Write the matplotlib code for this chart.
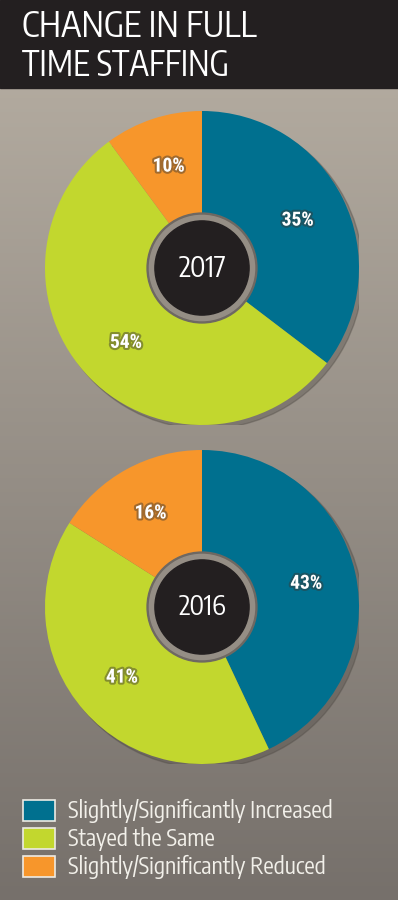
import numpy as np
import matplotlib
matplotlib.use("Agg")
import matplotlib.pyplot as plt
import matplotlib.patheffects as pe
from matplotlib.patches import Circle, Rectangle

# data
years = ["2017", "2016"]
categories = ["Slightly/Significantly Increased", "Stayed the Same",
              "Slightly/Significantly Reduced"]
pct_2017 = [35, 54, 10]
pct_2016 = [43, 41, 16]
colors = ["#00708F", "#C2D72E", "#F7962B"]
title_lines = ["CHANGE IN FULL", "TIME STAFFING"]

W, H = 398, 900
NARROW = ["Encode Sans Condensed", "Roboto Condensed", "DejaVu Sans"]
BOLDNARROW = ["Roboto Condensed", "Encode Sans Condensed", "DejaVu Sans"]

fig = plt.figure(figsize=(W / 100, H / 100), dpi=100)
renderer = fig.canvas.get_renderer()


def fit(txt, width_px):
    # scale font size so the text spans the measured width
    w = txt.get_window_extent(renderer).width
    txt.set_fontsize(txt.get_fontsize() * width_px / w)


# background gradient
bg = fig.add_axes([0, 0, 1, 1])
bg.set_xlim(0, W); bg.set_ylim(H, 0); bg.axis("off")
top = np.array([184, 176, 164]) / 255
bot = np.array([118, 112, 107]) / 255
t = np.linspace(0, 1, 256)[:, None]
grad = top + (bot - top) * t
bg.imshow(grad[:, None, :].repeat(2, axis=1), extent=[0, W, H, 0], aspect="auto")
bg.add_patch(Rectangle((0, 0), W, 88, color="#231F20"))
for i, line in enumerate(title_lines):
    tx = bg.text(22, 27 + i * 39, line, color="white", fontsize=28, family=NARROW,
                 va="center", ha="left")
    fit(tx, 234 if i == 0 else 207)

# legend
for i, (cat, c) in enumerate(zip(categories, colors)):
    y = 800 + i * 28
    bg.add_patch(Rectangle((23, y), 32, 21, facecolor=c, edgecolor="#EDEBE4", lw=1.2))
    tx = bg.text(68, y + 11, cat, color="#F2F0EA", fontsize=15, family=NARROW,
                 va="center", ha="left")
    if i == 0:
        fit(tx, 265)
        leg_fs = tx.get_fontsize()
    else:
        tx.set_fontsize(leg_fs)


def donut(cx, cy, r, vals, year):
    ax = fig.add_axes([(cx - r) / W, (H - cy - r) / H, 2 * r / W, 2 * r / H])
    ax.add_patch(Circle((0.025, -0.025), 1.0, color="#4A4540", alpha=0.35, zorder=0))
    wedges, _ = ax.pie(vals, colors=colors, startangle=90, counterclock=False,
                       radius=1.0, wedgeprops=dict(linewidth=0))
    ax.set_xlim(-1, 1); ax.set_ylim(-1, 1)
    ax.set_aspect("equal"); ax.axis("off")
    for w, v in zip(wedges, vals):
        ang = np.deg2rad((w.theta1 + w.theta2) / 2)
        tx = ax.text(0.68 * np.cos(ang), 0.68 * np.sin(ang), f"{v}%", color="white",
                     fontsize=13, fontweight="bold", family=BOLDNARROW,
                     ha="center", va="center",
                     path_effects=[pe.withStroke(linewidth=3, foreground="#3A3530",
                                                 alpha=0.45)])
        fit(tx, 32)
    ax.add_patch(Circle((0, 0), 0.35, color="#6E6862", zorder=3))
    ax.add_patch(Circle((0, 0), 0.335, color="#958E85", zorder=3))
    ax.add_patch(Circle((0, 0), 0.30, color="#231F20", zorder=4))
    tx = ax.text(0, 0, year, color="white", fontsize=22, family=NARROW,
                 ha="center", va="center", zorder=5)
    fit(tx, 48)


donut(202, 268, 157, pct_2017, years[0])
donut(202, 607, 157, pct_2016, years[1])

fig.savefig("out.png", dpi=100)
